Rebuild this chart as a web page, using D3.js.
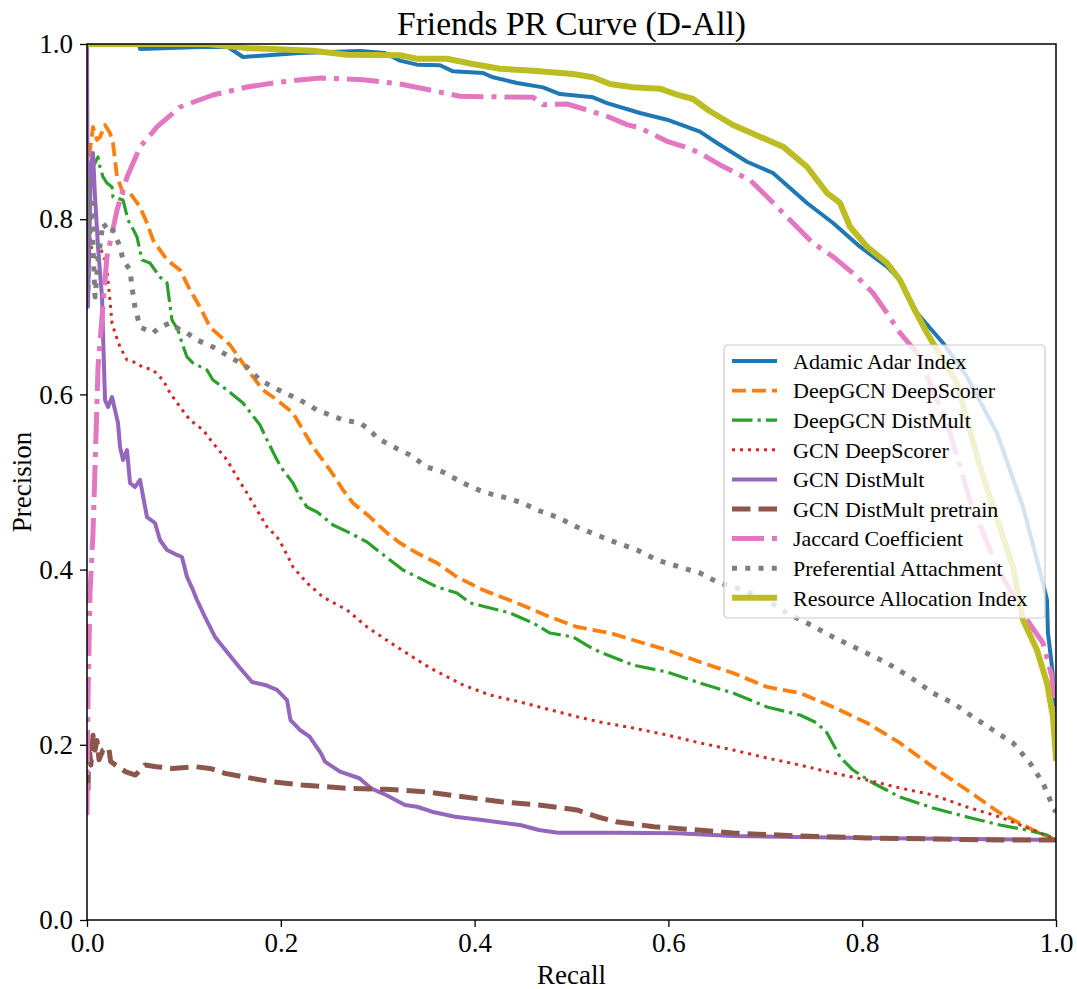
<!DOCTYPE html>
<html>
<head>
<meta charset="utf-8">
<script src="https://cdn.jsdelivr.net/npm/d3@7"></script>
<style>
  body { margin: 0; background: #fff; }
  text { font-family: "Liberation Serif", "Times New Roman", serif; fill: #000; }
</style>
</head>
<body>
<div id="chart"></div>
<script>
// series data: [recall, precision] pairs
var adamicAdar = [[0,1.0],[0.0537,1.0],[0.0547,0.9943],[0.1166,0.9966],[0.1455,0.9966],[0.161,0.9852],[0.2198,0.9897],[0.2817,0.992],[0.3075,0.9897],[0.323,0.981],[0.3406,0.9764],[0.3643,0.9757],[0.3777,0.9688],[0.4087,0.9669],[0.419,0.962],[0.4438,0.9555],[0.4706,0.9505],[0.4881,0.9429],[0.5222,0.9391],[0.5366,0.9326],[0.5707,0.9212],[0.5986,0.9136],[0.6326,0.8999],[0.6502,0.887],[0.6811,0.8656],[0.7079,0.8527],[0.743,0.8185],[0.7699,0.7957],[0.7977,0.7686],[0.8256,0.7458],[0.839,0.7306],[0.8566,0.6929],[0.8834,0.6587],[0.9082,0.6199],[0.9391,0.5559],[0.9659,0.4715],[0.9866,0.3847],[0.9907,0.3653],[0.9917,0.3276],[0.9959,0.2888],[1.0,0.2397]];

var deepgcnDeepScorer = [[0.001,0.78],[0.0031,0.879],[0.0062,0.9053],[0.0103,0.8904],[0.0134,0.8938],[0.0186,0.9075],[0.0237,0.8984],[0.0268,0.887],[0.031,0.8482],[0.0372,0.8299],[0.0444,0.8299],[0.0547,0.8139],[0.0619,0.7957],[0.0681,0.7763],[0.0826,0.7534],[0.096,0.742],[0.1063,0.7192],[0.1166,0.6998],[0.1269,0.6769],[0.1476,0.6564],[0.1682,0.6244],[0.1816,0.605],[0.1961,0.5936],[0.2126,0.5788],[0.2229,0.5594],[0.2332,0.54],[0.2508,0.5137],[0.2642,0.4909],[0.2745,0.476],[0.292,0.46],[0.3096,0.4418],[0.323,0.4304],[0.3406,0.4189],[0.3612,0.4075],[0.3818,0.3916],[0.4087,0.3767],[0.4438,0.3619],[0.4778,0.3459],[0.5057,0.3345],[0.5397,0.3276],[0.5635,0.3196],[0.5986,0.3082],[0.6326,0.2945],[0.6667,0.282],[0.7018,0.266],[0.7358,0.2591],[0.7699,0.2432],[0.805,0.2249],[0.839,0.2021],[0.873,0.1747],[0.9081,0.1484],[0.9422,0.1221],[0.9763,0.1027],[1.0,0.0913]];

var deepgcnDistMult = [[0.001,0.776],[0.0031,0.856],[0.0083,0.8642],[0.0114,0.871],[0.0134,0.8596],[0.0165,0.8482],[0.0206,0.8413],[0.0258,0.8368],[0.0268,0.8253],[0.0372,0.8219],[0.0423,0.7991],[0.0464,0.7911],[0.0516,0.7797],[0.0568,0.7534],[0.065,0.75],[0.0753,0.734],[0.0826,0.7272],[0.0877,0.6849],[0.0939,0.6735],[0.098,0.6587],[0.1032,0.6427],[0.1094,0.6358],[0.1238,0.6279],[0.13,0.6164],[0.1445,0.605],[0.161,0.5902],[0.1682,0.5799],[0.1785,0.5651],[0.1858,0.5479],[0.1961,0.5251],[0.2023,0.5137],[0.2126,0.4989],[0.2198,0.4829],[0.227,0.4715],[0.2374,0.4658],[0.2539,0.4509],[0.2714,0.4418],[0.289,0.4315],[0.2993,0.4224],[0.3127,0.411],[0.3261,0.3995],[0.3406,0.3916],[0.3612,0.3801],[0.3818,0.3733],[0.3953,0.3619],[0.4159,0.3562],[0.4365,0.3505],[0.4603,0.339],[0.4778,0.3276],[0.5015,0.3231],[0.5191,0.3116],[0.5294,0.3059],[0.5635,0.2911],[0.5986,0.2831],[0.6326,0.2705],[0.6667,0.2591],[0.7018,0.2432],[0.7358,0.234],[0.7534,0.2249],[0.7637,0.2135],[0.7771,0.1861],[0.7905,0.1712],[0.8111,0.1564],[0.839,0.1404],[0.873,0.1279],[0.9081,0.1176],[0.9422,0.1084],[0.9701,0.1027],[0.9907,0.097],[1.0,0.0913]];

var gcnDeepScorer = [[0.001,0.708],[0.0031,0.7797],[0.0062,0.7534],[0.0134,0.7683],[0.0186,0.7534],[0.0206,0.742],[0.0237,0.7078],[0.0258,0.6815],[0.0289,0.6701],[0.0341,0.6541],[0.0413,0.6393],[0.0516,0.6358],[0.0568,0.6313],[0.0681,0.6279],[0.0784,0.6164],[0.0857,0.6016],[0.096,0.5856],[0.1063,0.5708],[0.1197,0.5594],[0.13,0.5445],[0.1445,0.5251],[0.1548,0.5057],[0.1651,0.4874],[0.1754,0.468],[0.1858,0.4486],[0.1961,0.4372],[0.2023,0.4258],[0.2126,0.403],[0.227,0.3847],[0.2435,0.3687],[0.2683,0.3539],[0.289,0.3345],[0.3199,0.3116],[0.354,0.2877],[0.388,0.2683],[0.4159,0.2568],[0.4469,0.2489],[0.5057,0.2321],[0.5294,0.226],[0.5635,0.2192],[0.5986,0.2112],[0.6326,0.2021],[0.6667,0.1941],[0.7018,0.1849],[0.7358,0.1769],[0.7699,0.1678],[0.805,0.1598],[0.839,0.1507],[0.873,0.1427],[0.9081,0.129],[0.9422,0.1176],[0.9763,0.1027],[1.0,0.0913]];

var gcnDistMult = [[0,1.0],[0.001,0.70],[0.004,0.86],[0.0062,0.8756],[0.0083,0.8253],[0.0114,0.7683],[0.0155,0.7112],[0.0165,0.6701],[0.0186,0.5936],[0.0217,0.5856],[0.0258,0.597],[0.0289,0.5822],[0.032,0.5674],[0.0341,0.54],[0.0372,0.5251],[0.0413,0.5365],[0.0444,0.4989],[0.0495,0.4943],[0.0547,0.5023],[0.0619,0.46],[0.0702,0.4532],[0.0753,0.4338],[0.0826,0.4224],[0.0929,0.4167],[0.098,0.4144],[0.1032,0.3916],[0.1094,0.3767],[0.1135,0.3653],[0.1218,0.3459],[0.1321,0.3231],[0.1445,0.3059],[0.1579,0.2877],[0.1703,0.2717],[0.1837,0.2683],[0.1961,0.2626],[0.2064,0.2511],[0.21,0.2283],[0.2198,0.2169],[0.2297,0.2093],[0.2415,0.1903],[0.2456,0.1807],[0.2611,0.1693],[0.2811,0.1618],[0.2931,0.1503],[0.3086,0.1427],[0.3282,0.1313],[0.3406,0.1293],[0.356,0.1236],[0.3798,0.1179],[0.4076,0.1142],[0.4469,0.1084],[0.4665,0.1027],[0.4861,0.0997],[0.5459,0.0997],[0.6089,0.099],[0.6667,0.0959],[0.805,0.0936],[1.0,0.0913]];

var gcnDistMultPretrain = [[0.001,0.148],[0.002,0.2],[0.004,0.177],[0.0062,0.211],[0.0083,0.194],[0.0103,0.205],[0.0124,0.183],[0.0165,0.194],[0.0224,0.197],[0.0244,0.181],[0.032,0.175],[0.0402,0.169],[0.05,0.1655],[0.0599,0.177],[0.0717,0.175],[0.0877,0.173],[0.1115,0.175],[0.1269,0.173],[0.1424,0.1674],[0.1703,0.1617],[0.1899,0.1579],[0.2219,0.1541],[0.2693,0.1503],[0.3086,0.1492],[0.3478,0.1465],[0.388,0.1408],[0.4272,0.135],[0.4665,0.1313],[0.5057,0.1256],[0.5263,0.1179],[0.5459,0.1122],[0.5851,0.1065],[0.6089,0.1046],[0.6667,0.0993],[0.7358,0.0959],[0.805,0.0936],[0.873,0.0925],[0.9422,0.0913],[1.0,0.0913]];

var jaccard = [[0,0.12],[0.001,0.251],[0.0031,0.3733],[0.0062,0.4418],[0.0083,0.5171],[0.0114,0.6313],[0.0155,0.6884],[0.0206,0.7568],[0.031,0.8105],[0.0413,0.8482],[0.0547,0.8824],[0.0722,0.9053],[0.096,0.9281],[0.13,0.9418],[0.1651,0.9509],[0.1992,0.9566],[0.2405,0.9612],[0.2848,0.9592],[0.323,0.9543],[0.3437,0.9498],[0.3571,0.9467],[0.3849,0.9403],[0.4603,0.9391],[0.4706,0.9307],[0.4954,0.9315],[0.5119,0.9261],[0.5366,0.9175],[0.5573,0.9079],[0.5707,0.9041],[0.5986,0.8889],[0.6151,0.8832],[0.6326,0.8756],[0.6533,0.8619],[0.6842,0.8447],[0.7018,0.8257],[0.7286,0.7957],[0.7492,0.7728],[0.7699,0.7572],[0.7946,0.7344],[0.8111,0.7158],[0.8256,0.6929],[0.839,0.6701],[0.8566,0.6473],[0.8875,0.5674],[0.9112,0.4795],[0.9391,0.403],[0.9701,0.3425],[0.9866,0.3162],[0.9959,0.2774],[0.999,0.2135],[1.0,0.1826]];

var preferential = [[0.001,0.719],[0.002,0.845],[0.003,0.7797],[0.005,0.8185],[0.0062,0.7683],[0.0083,0.7112],[0.0114,0.7534],[0.0165,0.7957],[0.0237,0.7842],[0.0268,0.7877],[0.0341,0.7683],[0.0372,0.7534],[0.0444,0.742],[0.0464,0.7226],[0.0495,0.6998],[0.0547,0.6769],[0.0681,0.6701],[0.0753,0.6769],[0.0857,0.6815],[0.096,0.6735],[0.1032,0.6701],[0.1135,0.6621],[0.13,0.6541],[0.1476,0.6427],[0.1651,0.6313],[0.1785,0.6164],[0.1919,0.6084],[0.2023,0.6027],[0.2198,0.5936],[0.2374,0.5822],[0.2642,0.5708],[0.2817,0.5674],[0.292,0.5594],[0.2993,0.5502],[0.3127,0.5422],[0.3333,0.5308],[0.3509,0.5171],[0.3674,0.5114],[0.388,0.4989],[0.4087,0.4886],[0.4293,0.4829],[0.4499,0.476],[0.4644,0.468],[0.485,0.46],[0.5057,0.4486],[0.5263,0.4395],[0.547,0.4304],[0.5676,0.4224],[0.5882,0.411],[0.6151,0.4018],[0.6326,0.3961],[0.6502,0.3858],[0.677,0.3767],[0.7018,0.3653],[0.7224,0.3505],[0.743,0.339],[0.7699,0.3231],[0.7977,0.3082],[0.8256,0.2934],[0.8493,0.2774],[0.873,0.2591],[0.8937,0.2477],[0.9143,0.2317],[0.935,0.2169],[0.9556,0.2021],[0.9732,0.1792],[0.9866,0.1564],[0.9969,0.129],[1.0,0.123]];

var resourceAllocation = [[0,1.0],[0.1238,1.0],[0.1651,0.9954],[0.2332,0.9924],[0.2683,0.9878],[0.323,0.9871],[0.3406,0.9832],[0.3715,0.9832],[0.3983,0.9772],[0.4262,0.9718],[0.4603,0.9695],[0.5015,0.9658],[0.5222,0.962],[0.5397,0.9543],[0.5635,0.9506],[0.5913,0.949],[0.6089,0.9421],[0.6254,0.9372],[0.6429,0.9232],[0.6667,0.9075],[0.6945,0.8942],[0.7183,0.8828],[0.743,0.8599],[0.7637,0.8299],[0.7771,0.8185],[0.7874,0.7914],[0.805,0.7686],[0.8256,0.75],[0.839,0.7306],[0.8524,0.7001],[0.8669,0.6701],[0.8978,0.613],[0.9216,0.5171],[0.9556,0.403],[0.9659,0.3425],[0.9804,0.3082],[0.9907,0.2705],[0.9969,0.2317],[1.0,0.185]];

var seriesNames = ["Adamic Adar Index", "DeepGCN DeepScorer", "DeepGCN DistMult", "GCN DeepScorer",
                   "GCN DistMult", "GCN DistMult pretrain", "Jaccard Coefficient", "Preferential Attachment",
                   "Resource Allocation Index"];
var seriesData = [adamicAdar, deepgcnDeepScorer, deepgcnDistMult, gcnDeepScorer, gcnDistMult,
                  gcnDistMultPretrain, jaccard, preferential, resourceAllocation];
var tickValues = [0, 0.2, 0.4, 0.6, 0.8, 1.0];

// line styles (matplotlib tab10, dashes scale with width)
var styles = [
  {color: "#1f77b4", width: 4,   dash: null},
  {color: "#ff7f0e", width: 3.8, dash: "14,6"},
  {color: "#2ca02c", width: 3.2, dash: "20.5,5.1,3.2,5.1"},
  {color: "#d62728", width: 3,   dash: "3,5"},
  {color: "#9467bd", width: 4,   dash: null},
  {color: "#8c564b", width: 5,   dash: "18.5,8"},
  {color: "#e377c2", width: 5,   dash: "32,8,5,8"},
  {color: "#7f7f7f", width: 5,   dash: "5,8.25"},
  {color: "#bcbd22", width: 6,   dash: null}
];

var W = 1077, H = 989;
var margin = {top: 44, right: 21, bottom: 69, left: 87},
    width = W - margin.left - margin.right,
    height = H - margin.top - margin.bottom;

var x = d3.scaleLinear().domain([0, 1]).range([0, width]);
var y = d3.scaleLinear().domain([0, 1]).range([height, 0]);

var svg = d3.select("#chart").append("svg")
    .attr("width", W)
    .attr("height", H);

svg.append("defs").append("clipPath").attr("id", "clip")
  .append("rect").attr("width", width).attr("height", height);

var g = svg.append("g")
    .attr("transform", "translate(" + margin.left + "," + margin.top + ")");

var line = d3.line()
    .x(function(d) { return x(d[0]); })
    .y(function(d) { return y(d[1]); });

var plot = g.append("g").attr("clip-path", "url(#clip)");
seriesData.forEach(function(data, i) {
  plot.append("path")
      .datum(data)
      .attr("d", line)
      .style("fill", "none")
      .style("stroke", styles[i].color)
      .style("stroke-width", styles[i].width)
      .style("stroke-dasharray", styles[i].dash)
      .style("stroke-linejoin", "round")
      .style("stroke-linecap", styles[i].dash ? "butt" : "square");
});

// axes
var fmt = d3.format(".1f");
var xAxis = g.append("g")
    .attr("transform", "translate(0," + height + ")")
    .call(d3.axisBottom(x).tickValues(tickValues).tickFormat(fmt).tickSize(7).tickPadding(6));
var yAxis = g.append("g")
    .call(d3.axisLeft(y).tickValues(tickValues).tickFormat(fmt).tickSize(7).tickPadding(7));
[xAxis, yAxis].forEach(function(a) {
  a.select(".domain").remove();
  a.selectAll(".tick line").attr("stroke", "#000").attr("stroke-width", 1.3);
  a.selectAll(".tick text").style("font-size", "27px").style("font-family", "Liberation Serif, serif");
});

g.append("rect")
    .attr("width", width).attr("height", height)
    .style("fill", "none").style("stroke", "#000").style("stroke-width", 1.5);

// titles
svg.append("text")
    .attr("x", margin.left + width / 2).attr("y", 35)
    .attr("text-anchor", "middle")
    .style("font-size", "33.5px")
    .text("Friends PR Curve (D-All)");
svg.append("text")
    .attr("x", margin.left + width / 2).attr("y", 984)
    .attr("text-anchor", "middle")
    .style("font-size", "27px")
    .text("Recall");
svg.append("text")
    .attr("transform", "translate(31," + (margin.top + height / 2) + ") rotate(-90)")
    .attr("text-anchor", "middle")
    .style("font-size", "27px")
    .text("Precision");

// legend
var legend = svg.append("g").attr("transform", "translate(724,345)");
legend.append("rect")
    .attr("width", 321).attr("height", 273).attr("rx", 4)
    .style("fill", "#fff").style("fill-opacity", 0.8)
    .style("stroke", "#ccc").style("stroke-width", 1.2);
seriesNames.forEach(function(name, i) {
  var row = legend.append("g").attr("transform", "translate(0," + (16 + i * 29.6) + ")");
  row.append("line")
      .attr("x1", 8).attr("x2", 53)
      .style("stroke", styles[i].color)
      .style("stroke-width", styles[i].width)
      .style("stroke-dasharray", styles[i].dash)
      .style("stroke-linecap", "butt");
  row.append("text")
      .attr("x", 69).attr("dy", "0.35em")
      .style("font-size", "22px")
      .text(name);
});
</script>
</body>
</html>
